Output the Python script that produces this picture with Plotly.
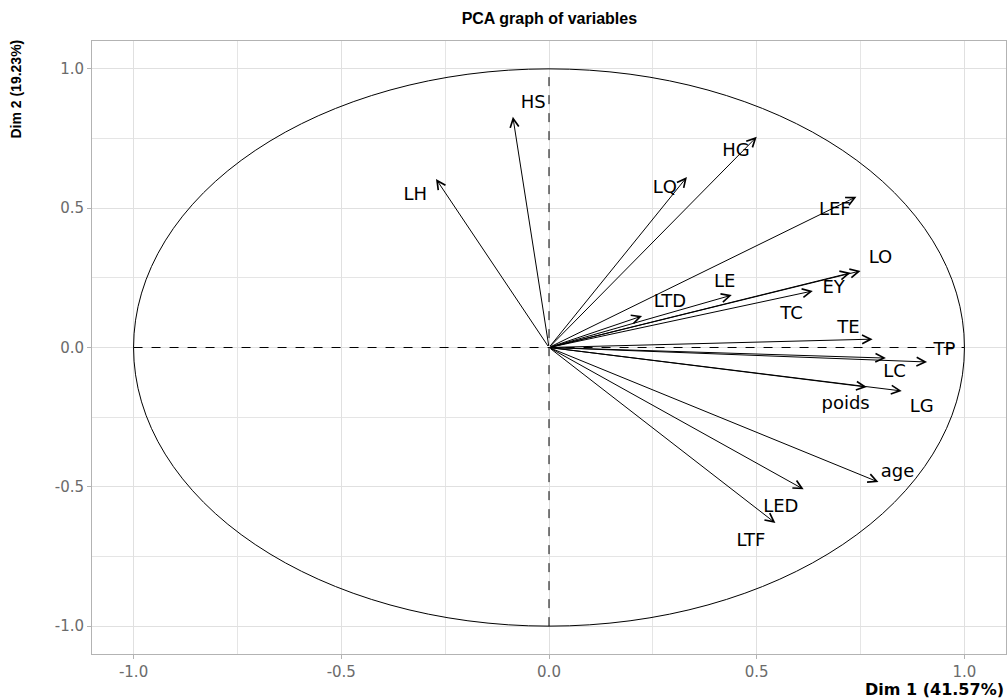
import plotly.graph_objects as go

variables = ["HS", "LH", "LQ", "HG", "LEF", "LO", "EY", "LE", "TC", "LTD",
             "TE", "TP", "LC", "poids", "LG", "age", "LED", "LTF"]
dim1 = [-0.087, -0.272, 0.332, 0.500, 0.740, 0.750, 0.726, 0.440, 0.635, 0.224,
        0.779, 0.910, 0.811, 0.765, 0.849, 0.793, 0.613, 0.545]
dim2 = [0.828, 0.605, 0.612, 0.756, 0.541, 0.275, 0.268, 0.188, 0.203, 0.113,
        0.030, -0.052, -0.038, -0.142, -0.156, -0.483, -0.509, -0.630]
label_x = [-0.038, -0.322, 0.279, 0.450, 0.688, 0.798, 0.685, 0.423, 0.584, 0.291,
           0.721, 0.952, 0.832, 0.714, 0.897, 0.839, 0.558, 0.486]
label_y = [0.874, 0.547, 0.569, 0.702, 0.490, 0.321, 0.211, 0.235, 0.117, 0.160,
           0.070, -0.009, -0.088, -0.203, -0.214, -0.447, -0.573, -0.695]

tick_vals = [-1.0, -0.5, 0.0, 0.5, 1.0]
tick_text = ["-1.0", "-0.5", "0.0", "0.5", "1.0"]
title_text = "PCA graph of variables"
xlab = "Dim 1 (41.57%)"
ylab = "Dim 2 (19.23%)"

fig = go.Figure()

# dashed reference axes
fig.add_trace(go.Scatter(x=[-1, 1], y=[0, 0], mode="lines",
                         line=dict(color="black", width=1, dash="dash"),
                         hoverinfo="skip", showlegend=False))
fig.add_trace(go.Scatter(x=[0, 0], y=[-1, 1], mode="lines",
                         line=dict(color="black", width=1, dash="dash"),
                         hoverinfo="skip", showlegend=False))

# labels
fig.add_trace(go.Scatter(x=label_x, y=label_y, mode="text", text=variables,
                         textfont=dict(family="DejaVu Sans", size=18, color="black"),
                         textposition="middle center", showlegend=False))

# correlation circle
fig.add_shape(type="circle", xref="x", yref="y", x0=-1, y0=-1, x1=1, y1=1,
              line=dict(color="black", width=1))

# arrows
for v, x, y in zip(variables, dim1, dim2):
    fig.add_annotation(x=x, y=y, ax=0, ay=0, xref="x", yref="y", axref="x", ayref="y",
                       text="", showarrow=True, arrowhead=5, arrowsize=1.7,
                       arrowwidth=1, arrowcolor="black", standoff=0)

axis_common = dict(
    tickvals=tick_vals, ticktext=tick_text,
    showgrid=True, gridcolor="#E0E0E0", gridwidth=1,
    minor=dict(dtick=0.25, tick0=0, showgrid=True, gridcolor="#E5E5E5", gridwidth=1),
    zeroline=False, showline=True, mirror=True, linecolor="#B3B3B3", linewidth=1,
    ticks="outside", ticklen=4, tickcolor="#B3B3B3",
    tickfont=dict(family="DejaVu Sans", size=15, color="#6B6B6B"),
    range=[-1.1, 1.1], fixedrange=True,
)

fig.update_layout(
    width=1008, height=700,
    margin=dict(l=92, r=2, t=41, b=46),
    paper_bgcolor="white", plot_bgcolor="white",
    xaxis=axis_common,
    yaxis=axis_common,
    showlegend=False,
    title=dict(text="<b>" + title_text + "</b>", x=0.545, xanchor="center", y=0.974, yanchor="middle",
               font=dict(family="Liberation Sans, Arial", size=16, color="black")),
)

fig.add_annotation(text="<b>" + xlab + "</b>", xref="paper", yref="paper", x=1.0, y=-0.039,
                   xanchor="right", yanchor="top", showarrow=False,
                   font=dict(family="DejaVu Sans", size=16, color="black"))
fig.add_annotation(text="<b>" + ylab + "</b>", xref="paper", yref="paper", x=-0.083, y=1.005,
                   xanchor="center", yanchor="top", textangle=-90, showarrow=False,
                   font=dict(family="Liberation Sans, Arial", size=14, color="black"))

fig.write_html("out.html")
